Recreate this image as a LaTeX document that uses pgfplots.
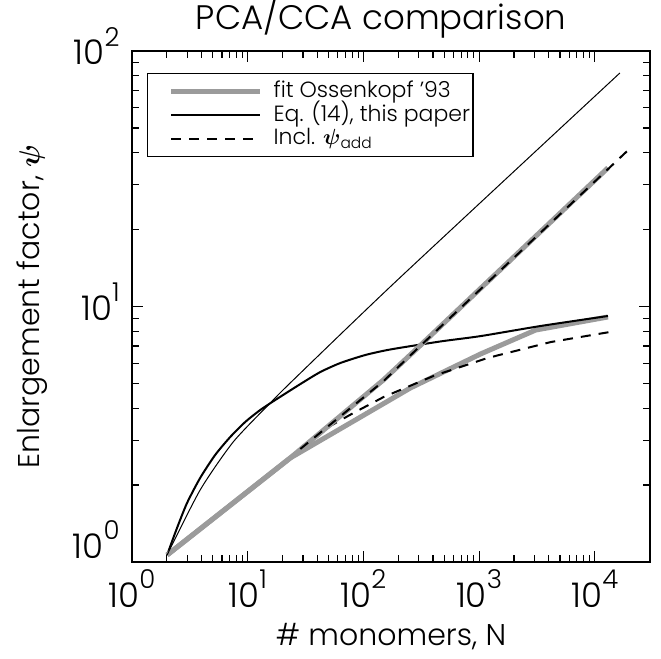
\documentclass[border=0pt]{standalone}
\usepackage{fontspec}
\IfFontExistsTF{Poppins Light}{\setmainfont{Poppins Light}}{\setmainfont{Poppins}}
\usepackage{amsmath}
\usepackage{pgfplots}
\pgfplotsset{compat=1.18}
\definecolor{fitgray}{RGB}{155,155,155}
\newcommand\tn[1]{10\raisebox{0.55em}{\fontsize{13}{13}\selectfont #1}}

\begin{document}
\begin{tikzpicture}
\begin{loglogaxis}[
  scale only axis, width=259pt, height=255.5pt,
  xmin=1, xmax=3e4, ymin=1, ymax=100,
  axis line style={line width=0.75pt},
  every tick/.style={black, line width=0.6pt},
  major tick length=5.5pt, minor tick length=3.3pt,
  tick align=inside, xtick pos=both, ytick pos=both,
  xticklabel pos=lower, yticklabel pos=left,
  xtick={1,10,100,1000,10000}, xticklabels={\tn{0},\tn{1},\tn{2},\tn{3},\tn{4}},
  ytick={1,10,100}, yticklabels={\raisebox{9pt}{\tn{0}},\tn{1},\tn{2}},
  tick label style={font=\fontsize{17}{17}\selectfont, inner sep=0pt},
  xticklabel style={anchor=base, yshift=-22.5pt},
  yticklabel style={anchor=base east, xshift=-6pt, yshift=-7pt},
  title={PCA/CCA comparison},
  every axis title/.style={at={(axis description cs:0.481,1)}, anchor=base, yshift=10.5pt, font=\fontsize{17}{17}\selectfont, inner sep=0pt},
  xlabel={\# monomers, N},
  every axis x label/.style={at={(axis description cs:0.5,0)}, anchor=base, yshift=-41.5pt, font=\fontsize{15}{15}\selectfont, inner sep=0pt},
  ylabel={Enlargement factor, $\boldsymbol{\psi}$},
  every axis y label/.style={at={(axis description cs:-0.193,0.5)}, anchor=center, rotate=90, font=\fontsize{15}{15}\selectfont, inner sep=0pt},
  legend image code/.code={\path (-9pt,0pt); \draw[#1] (0pt,0pt) -- (44.5pt,0pt); \path (50pt,0pt);},
  legend style={at={(axis description cs:0.029,0.957)}, anchor=north west,
    draw=black, line width=0.6pt, font=\fontsize{11}{11}\selectfont,
    inner xsep=1.5pt, inner ysep=3.5pt, row sep=0.75pt, column sep=0pt,
    nodes={inner sep=0pt, text height=8.5pt, text depth=2.5pt},
    cells={anchor=west}},
]
% fit Ossenkopf '93 (lower branch)
\addplot[fitgray, line width=2.5pt] coordinates {
  (2.01,1.065) (23.3,2.553) (255,4.80) (1030,6.52) (3085,8.09) (13000,9.10)};
\addlegendentry{fit Ossenkopf '93}
% Eq. (14) thick
\addplot[black, line width=1pt, smooth, tension=0.4] coordinates {
  (2.01,1.065) (2.45,1.359) (2.99,1.702) (3.88,2.132) (5.23,2.623) (7.06,3.085)
  (9.51,3.531) (12.83,3.935) (17.31,4.306) (28.49,4.97) (42.4,5.54) (63.2,6.01)
  (104,6.46) (171,6.79) (464,7.30) (1030,7.66) (3405,8.39) (13000,9.18)};
\addlegendentry{Eq. (14), this paper}
% Incl. psi_add (lower)
\addplot[black, line width=1pt, dash pattern=on 5pt off 4pt] coordinates {
  (28.5,2.74) (51.8,3.41) (81.9,3.83) (149,4.42) (404,5.35) (1185,6.29) (4160,7.26) (15200,8.02)};
\addlegendentry{Incl. $\boldsymbol{\psi}$\textsubscript{add}}
% fit upper branch
\addplot[fitgray, line width=2.5pt, forget plot] coordinates {
  (2.01,1.065) (23.3,2.553) (149,5.16) (294,6.88) (13000,34.9)};
% Eq. (14) thin
\addplot[black, line width=0.5pt, smooth, tension=0.4, forget plot] coordinates {
  (2.01,1.065) (3.88,1.913) (7.49,2.949) (15.66,4.19) (24.77,5.157) (197,12.70) (16460,82.0)};
% Incl. psi_add (upper)
\addplot[black, line width=1pt, dash pattern=on 5pt off 4pt, forget plot] coordinates {
  (28.5,2.77) (149,5.10) (294,6.85) (20400,41.8)};
\end{loglogaxis}
\pgfresetboundingbox
\path ([shift={(-66pt,-48pt)}]current axis.south west) rectangle ([shift={(5.5pt,25.5pt)}]current axis.north east);
\end{tikzpicture}
\end{document}
